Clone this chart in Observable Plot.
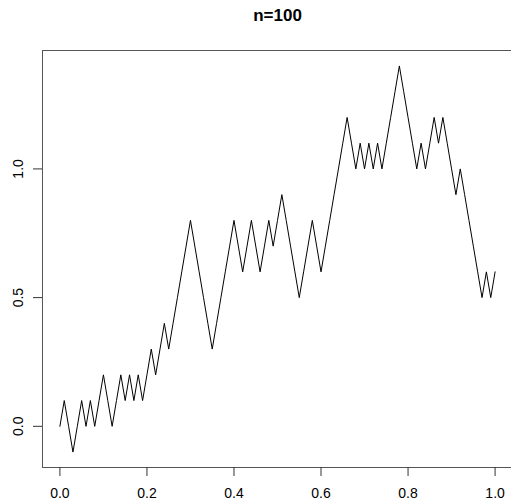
<!DOCTYPE html>
<html><head><meta charset="utf-8">
<script src="https://cdn.jsdelivr.net/npm/d3@7"></script>
<script src="https://cdn.jsdelivr.net/npm/@observablehq/plot@0.6"></script>
<style>html,body{margin:0;background:#fff;overflow:hidden}</style>
</head><body><div id="chart"></div>
<script>
const title = "n=100";
const walk = [
  0,0.1,0,-0.1,0,0.1,0,0.1,0,0.1,0.2,0.1,0,0.1,0.2,0.1,0.2,0.1,0.2,0.1,0.2,0.3,0.2,0.3,0.4,0.3,
  0.4,0.5,0.6,0.7,0.8,
  0.7,0.6,0.5,0.4,0.3,
  0.4,0.5,0.6,0.7,0.8,
  0.7,0.6,0.7,0.8,0.7,0.6,0.7,0.8,0.7,0.8,0.9,
  0.8,0.7,0.6,0.5,0.6,0.7,0.8,0.7,0.6,
  0.7,0.8,0.9,1.0,1.1,1.2,
  1.1,1.0,1.1,1.0,1.1,1.0,1.1,1.0,1.1,1.2,1.3,1.4,
  1.3,1.2,1.1,1.0,1.1,1.0,1.1,1.2,1.1,1.2,
  1.1,1.0,0.9,1.0,0.9,0.8,0.7,0.6,0.5,0.6,0.5,0.6
];
const steps = walk.map((_, i) => i / (walk.length - 1));
const xTicks = [0, 0.2, 0.4, 0.6, 0.8, 1.0];
const yTicks = [0, 0.5, 1.0];

const data = walk.map((v, i) => ({t: steps[i], w: v}));
const fmt = d3.format(".1f");

const chart = Plot.plot({
  width: 513,
  height: 502,
  marginLeft: 42,
  marginTop: 50,
  marginBottom: 35,
  marginRight: 1,
  style: {fontFamily: "'Liberation Sans', Arial, sans-serif", fontSize: "14px", background: "#fff", color: "#000", maxWidth: "none"},
  x: {domain: [-0.04, 1.04], label: null},
  y: {domain: [-0.16, 1.46], label: null},
  marks: [
    Plot.frame({stroke: "#555", strokeWidth: 1}),
    Plot.axisX(xTicks, {tickSize: 9, tickPadding: 12, tickFormat: fmt, fontSize: 14, stroke: "#333"}),
    Plot.axisY(yTicks, {tickSize: 9, tickFormat: () => "", stroke: "#333"}),
    Plot.text(yTicks, {y: d => d, text: d => fmt(d), frameAnchor: "left", dx: -24, rotate: -90, textAnchor: "middle", lineAnchor: "middle", fontSize: 14}),
    Plot.line(data, {x: "t", y: "w", stroke: "#000", strokeWidth: 1}),
    Plot.text([title], {frameAnchor: "top", dy: -35, text: d => d, fontWeight: "bold", fontSize: 17, lineAnchor: "middle"})
  ]
});
document.getElementById("chart").appendChild(chart);
</script>
</body></html>
